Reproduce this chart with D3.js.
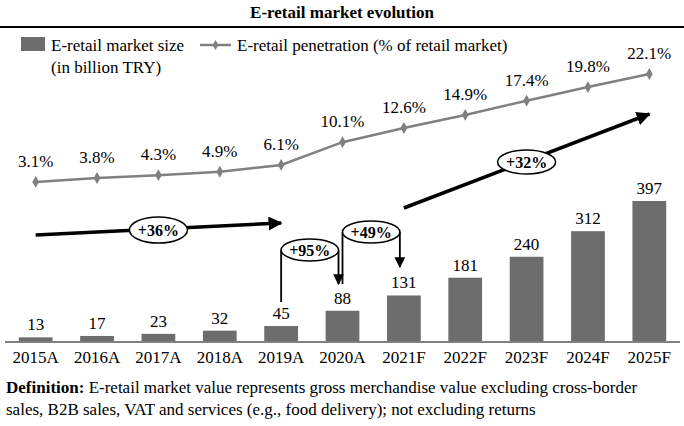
<!DOCTYPE html>
<html>
<head>
<meta charset="utf-8">
<script src="https://cdn.jsdelivr.net/npm/d3@7"></script>
<style>
html,body{margin:0;padding:0;background:#fff;}
svg{display:block;font-family:"Liberation Serif","Times New Roman",serif;}
</style>
</head>
<body>
<svg id="chart" width="684" height="426"></svg>
<script>
const categories = ["2015A","2016A","2017A","2018A","2019A","2020A","2021F","2022F","2023F","2024F","2025F"];
const marketSize = [13,17,23,32,45,88,131,181,240,312,397];
const penetration = [3.1,3.8,4.3,4.9,6.1,10.1,12.6,14.9,17.4,19.8,22.1];
const cagrLabels = ["+36%","+95%","+49%","+32%"];

const barColor = "#6d6d6d", lineColor = "#808080";
const svg = d3.select("#chart");

const x = d3.scaleBand().domain(categories).range([5,680]).paddingInner(0.45).paddingOuter(0.225);
const yBar = d3.scaleLinear().domain([0,397]).range([342,201]);
const yLine = d3.scaleLinear().domain([0,22.1]).range([199.6,74]);
const cx = c => x(c) + x.bandwidth()/2;

const defs = svg.append("defs");
defs.append("marker")
  .attr("id","ah").attr("viewBox","0 0 10 10").attr("refX",9).attr("refY",5)
  .attr("markerWidth",4).attr("markerHeight",4).attr("orient","auto")
  .attr("markerUnits","strokeWidth")
  .append("path").attr("d","M0,0 L10,5 L0,10 Z").attr("fill","#000");
defs.append("marker")
  .attr("id","ah2").attr("viewBox","0 0 10 10").attr("refX",9).attr("refY",5)
  .attr("markerWidth",6).attr("markerHeight",6).attr("orient","auto")
  .attr("markerUnits","strokeWidth")
  .append("path").attr("d","M0,0 L10,5 L0,10 Z").attr("fill","#000");

// Title
svg.append("text").attr("x",342).attr("y",18).attr("text-anchor","middle")
  .attr("font-size",17).attr("font-weight","bold").text("E-retail market evolution");
svg.append("line").attr("x1",0).attr("x2",684).attr("y1",27).attr("y2",27)
  .attr("stroke","#000").attr("stroke-width",2);

// Legend
svg.append("rect").attr("x",21).attr("y",37).attr("width",24).attr("height",14).attr("fill",barColor);
svg.append("text").attr("x",51).attr("y",51).attr("font-size",17).text("E-retail market size");
svg.append("text").attr("x",51).attr("y",73).attr("font-size",17).text("(in billion TRY)");
svg.append("line").attr("x1",200).attr("x2",231).attr("y1",45).attr("y2",45)
  .attr("stroke",lineColor).attr("stroke-width",2.5);
svg.append("path").attr("d",d3.symbol(d3.symbolDiamond,30)()).attr("transform","translate(215.5,45)").attr("fill",lineColor);
svg.append("text").attr("x",237).attr("y",51).attr("font-size",17).text("E-retail penetration (% of retail market)");

// Bars
svg.append("g").selectAll("rect").data(marketSize).join("rect")
  .attr("x",(d,i)=>x(categories[i])).attr("width",x.bandwidth())
  .attr("y",d=>yBar(d)).attr("height",d=>yBar(0)-yBar(d)).attr("fill",barColor);
svg.append("g").selectAll("text").data(marketSize).join("text")
  .attr("x",(d,i)=>cx(categories[i])).attr("y",d=>yBar(d)-7)
  .attr("text-anchor","middle").attr("font-size",17).text(d=>d);

// Axis baseline and labels
const xAxis = d3.axisBottom(x).tickSize(0).tickPadding(9);
const gx = svg.append("g").attr("transform","translate(0,342)").call(xAxis);
gx.select(".domain").attr("d","M5,0H680").attr("stroke",lineColor).attr("stroke-width",2);
gx.selectAll("text").attr("font-size",17).attr("font-family","Liberation Serif").attr("fill","#000");

// Line
const line = d3.line().x((d,i)=>cx(categories[i])).y(d=>yLine(d));
svg.append("path").datum(penetration).attr("d",line).attr("fill","none")
  .attr("stroke",lineColor).attr("stroke-width",2.5);
svg.append("g").selectAll("path").data(penetration).join("path")
  .attr("d",d3.symbol(d3.symbolDiamond,40)())
  .attr("transform",(d,i)=>`translate(${cx(categories[i])},${yLine(d)})`).attr("fill",lineColor);
svg.append("g").selectAll("text").data(penetration).join("text")
  .attr("x",(d,i)=>cx(categories[i])).attr("y",d=>yLine(d)-15)
  .attr("text-anchor","middle").attr("font-size",17).text(d=>d.toFixed(1)+"%");

// CAGR arrows
function bubble(cxp, cyp, rx, ry, label){
  svg.append("ellipse").attr("cx",cxp).attr("cy",cyp).attr("rx",rx).attr("ry",ry)
    .attr("fill","#fff").attr("stroke","#000").attr("stroke-width",1.5);
  svg.append("text").attr("x",cxp).attr("y",cyp+5.5).attr("text-anchor","middle")
    .attr("font-size",16).attr("font-weight","bold").text(label);
}
svg.append("line").attr("x1",cx("2015A")).attr("y1",235).attr("x2",cx("2019A")).attr("y2",223)
  .attr("stroke","#000").attr("stroke-width",3.5).attr("marker-end","url(#ah)");
bubble(cx("2017A"),230,29,13,cagrLabels[0]);
svg.append("line").attr("x1",cx("2021F")).attr("y1",208).attr("x2",cx("2025F")).attr("y2",114)
  .attr("stroke","#000").attr("stroke-width",3.5).attr("marker-end","url(#ah)");
bubble(cx("2023F"),162,29,12,cagrLabels[3]);

function loop(c1, c2, cy, bottomLeft, tipY, label){
  const x1 = cx(c1), x2 = cx(c2) - 4;
  svg.append("line").attr("x1",x1).attr("x2",x1).attr("y1",cy).attr("y2",bottomLeft)
    .attr("stroke","#000").attr("stroke-width",1.8);
  svg.append("line").attr("x1",x2).attr("x2",x2).attr("y1",cy).attr("y2",tipY)
    .attr("stroke","#000").attr("stroke-width",1.8).attr("marker-end","url(#ah2)");
  bubble((x1+x2)/2, cy, (x2-x1)/2, 11, label);
}
loop("2019A","2020A",250,302,284,cagrLabels[1]);
loop("2020A","2021F",232,284,267,cagrLabels[2]);

// Definition
const def = svg.append("text").attr("x",6).attr("y",393).attr("font-size",17);
def.append("tspan").attr("font-weight","bold").text("Definition:");
def.append("tspan").text(" E-retail market value represents gross merchandise value excluding cross-border");
svg.append("text").attr("x",6).attr("y",415).attr("font-size",17)
  .text("sales, B2B sales, VAT and services (e.g., food delivery); not excluding returns");
</script>
</body>
</html>
